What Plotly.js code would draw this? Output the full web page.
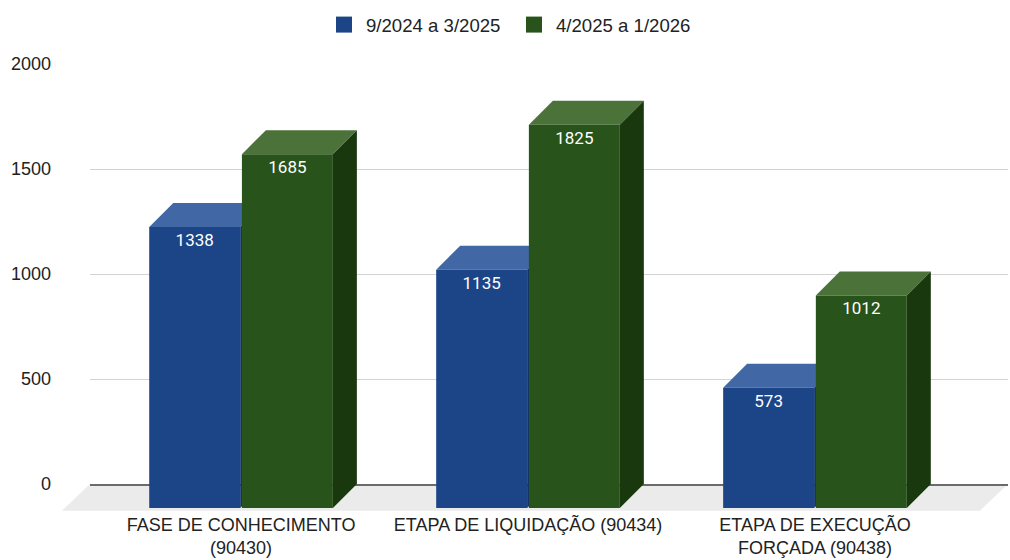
<!DOCTYPE html>
<html>
<head>
<meta charset="utf-8">
<script src="https://cdn.plot.ly/plotly-3.0.1.min.js"></script>
<style>html,body{margin:0;padding:0;background:#fff;}#chart{width:1010px;height:560px;}</style>
</head>
<body>
<div id="chart"></div>
<script>
// ---- data ----
const categories = ["FASE DE CONHECIMENTO<br>(90430)", "ETAPA DE LIQUIDAÇÃO (90434)", "ETAPA DE EXECUÇÃO<br>FORÇADA (90438)"];
const seriesNames = ["9/2024 a 3/2025", "4/2025 a 1/2026"];
const valuesA = [1338, 1135, 573];
const valuesB = [1685, 1825, 1012];
const yTicks = [0, 500, 1000, 1500, 2000];

// ---- style / geometry ----
const colorsFront = ["#1c4587", "#28531a"];
const colorsTop = ["#4167a5", "#4b7339"];
const colorsSide = ["#12336d", "#1a380d"];
const W = 1010, H = 560;
const ml = 66, mr = 2, mt = 64, mb = 52;
const plotW = W - ml - mr, plotH = H - mt - mb;
const depth = 24;
const frontW = plotW - depth, frontH = plotH - depth;
const xRange = [-0.610, 2.589];
const yMax = 2000;
const pxPerX = frontW / (xRange[1] - xRange[0]);
const dx = depth / pxPerX;
const dy = depth * yMax / frontH;
const barWidth = 0.317;
const offsets = [-0.320, 0.003];
const xIdx = categories.map((c, i) => i);

const traces = [];
const shapes = [];
// floor
shapes.push({
  type: 'path', xref: 'paper', yref: 'paper', layer: 'below',
  path: `M${-4/plotW},-0.006 L${(frontW-4)/plotW},-0.006 L1,${depth/plotH} L${depth/plotW},${depth/plotH} Z`,
  fillcolor: '#ebebeb', line: {width: 0}
});

[valuesA, valuesB].forEach((vals, s) => {
  traces.push({
    type: 'bar', x: xIdx, y: vals, xaxis: 'x2', yaxis: 'y2',
    width: barWidth, offset: offsets[s],
    marker: {color: colorsFront[s], line: {width: 0}},
    texttemplate: '%{y}', textposition: 'inside', insidetextanchor: 'end',
    textangle: 0, constraintext: 'none',
    textfont: {family: 'Roboto, sans-serif', size: 17, color: '#ffffff'},
    hoverinfo: 'skip', showlegend: false, name: seriesNames[s]
  });
  vals.forEach((v, i) => {
    const x0 = i + offsets[s], x1 = x0 + barWidth;
    shapes.push({type: 'path', xref: 'x2', yref: 'y2', layer: 'below',
      path: `M${x0},${v} L${x1},${v} L${x1+dx},${v+dy} L${x0+dx},${v+dy} Z`,
      fillcolor: colorsTop[s], line: {width: 0}});
    shapes.push({type: 'path', xref: 'x2', yref: 'y2', layer: 'below',
      path: `M${x1},0 L${x1},${v} L${x1+dx},${v+dy} L${x1+dx},${dy} Z`,
      fillcolor: colorsSide[s], line: {width: 0}});
  });
});
// legend entries (also make the back-plane subplot exist)
seriesNames.forEach((n, s) => {
  traces.push({type: 'scatter', mode: 'markers', x: [null], y: [null], xaxis: 'x', yaxis: 'y',
    name: n, marker: {symbol: 'square', size: 16, color: colorsFront[s]}, hoverinfo: 'skip'});
});

const layout = {
  width: W, height: H,
  margin: {l: ml, r: mr, t: mt, b: mb, pad: 0},
  paper_bgcolor: '#ffffff', plot_bgcolor: 'rgba(0,0,0,0)',
  font: {family: 'Liberation Sans, Arial, sans-serif', size: 18, color: '#222222'},
  showlegend: true,
  legend: {orientation: 'h', xref: 'container', yref: 'container', x: 322/W, xanchor: 'left',
    y: 1 - 6/H, yanchor: 'top', itemwidth: 34, entrywidth: 141,
    font: {size: 18.6, color: '#222222'}, bgcolor: 'rgba(0,0,0,0)'},
  xaxis: {domain: [depth/plotW, 1], range: [0, 1], anchor: 'y', showgrid: false, zeroline: false,
    showticklabels: false, ticks: '', showline: true, linecolor: '#6b6b6b', linewidth: 1.5, fixedrange: true},
  yaxis: {domain: [depth/plotH, 1], range: [0, yMax], anchor: 'x', tickvals: yTicks, ticktext: yTicks.map(String),
    showgrid: true, gridcolor: '#d3d3d3', gridwidth: 1, zeroline: false, ticks: '', ticklabelstandoff: 38,
    tickfont: {size: 18, color: '#222222'}, fixedrange: true},
  xaxis2: {domain: [0, frontW/plotW], range: xRange, anchor: 'y2', tickvals: xIdx, ticktext: categories,
    showgrid: false, zeroline: false, ticks: '', showline: false, tickfont: {size: 18, color: '#222222'},
    ticklabelstandoff: 4, fixedrange: true},
  yaxis2: {domain: [0, frontH/plotH], range: [0, yMax], anchor: 'x2', visible: false, fixedrange: true},
  shapes: shapes,
  bargap: 0.36
};
Plotly.newPlot('chart', traces, layout, {displayModeBar: false, staticPlot: true});
</script>
</body>
</html>
